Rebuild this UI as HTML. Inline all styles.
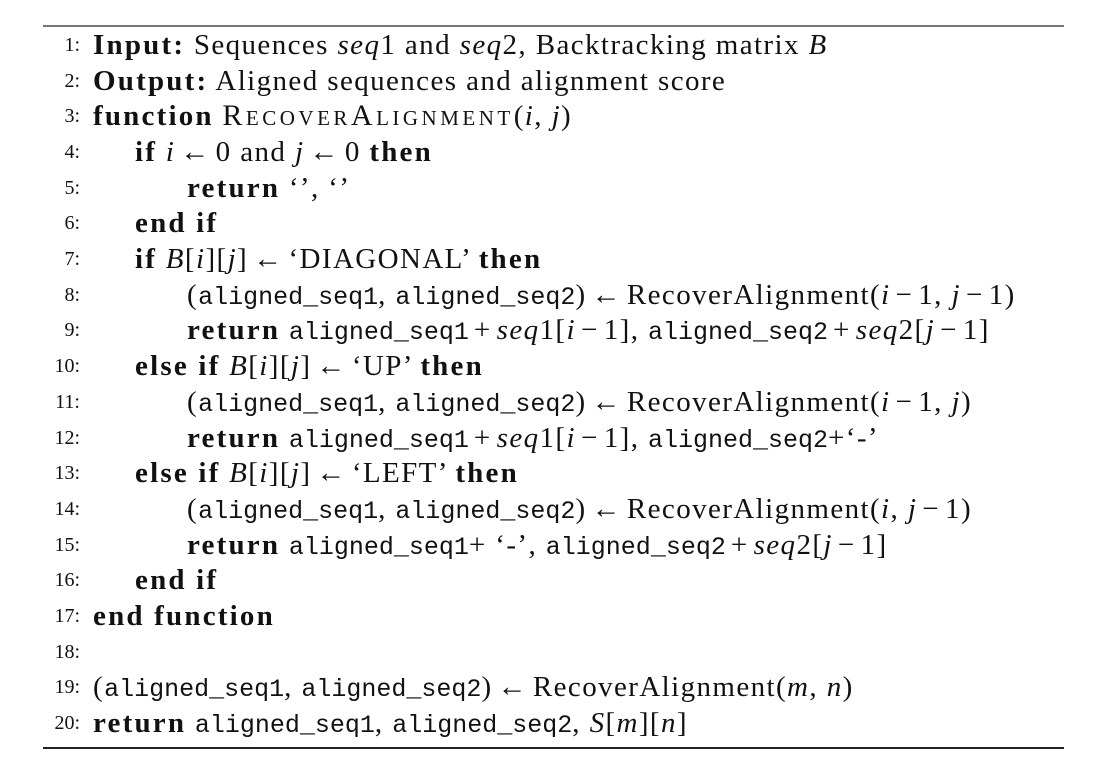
<!DOCTYPE html>
<html><head><meta charset="utf-8"><style>
body{margin:0;width:1114px;height:776px;background:#fff;position:relative;overflow:hidden;font-family:"Liberation Serif",serif;color:#111}
.rule{position:absolute;left:43px;width:1021px;height:2px}
.ln{position:absolute;left:0;height:36px;white-space:nowrap;font-size:29px;line-height:36px;letter-spacing:1.4px}
.num{position:absolute;left:20px;width:60px;text-align:right;font-size:20px;letter-spacing:0}
.tx{position:absolute;white-space:nowrap}
b{font-weight:bold;font-size:29px;letter-spacing:2.2px}
i{font-style:italic}
.m{font-family:"Liberation Mono",monospace;font-size:25px;letter-spacing:0}
.sc{font-variant:small-caps;font-size:30px;letter-spacing:3.5px}
.op{padding:0 5px}
</style></head><body>
<div class="rule" style="top:25px;background:#777"></div>
<div class="rule" style="top:747px;background:#222"></div>
<div>
<div class="ln" style="top:27px"><span class="num">1:</span><span class="tx" style="left:93px"><b>Input:</b> Sequences <i>seq</i>1 and <i>seq</i>2, Backtracking matrix <i>B</i></span></div>
<div class="ln" style="top:63px"><span class="num">2:</span><span class="tx" style="left:93px"><b>Output:</b> Aligned sequences and alignment score</span></div>
<div class="ln" style="top:98px"><span class="num">3:</span><span class="tx" style="left:93px"><b>function</b> <span class="sc">RecoverAlignment</span>(<i>i</i>, <i>j</i>)</span></div>
<div class="ln" style="top:134px"><span class="num">4:</span><span class="tx" style="left:135px"><b>if</b> <i>i</i><span class="op">←</span>0 and <i>j</i><span class="op">←</span>0 <b>then</b></span></div>
<div class="ln" style="top:170px"><span class="num">5:</span><span class="tx" style="left:187px"><b>return</b> ‘’, ‘’</span></div>
<div class="ln" style="top:205px"><span class="num">6:</span><span class="tx" style="left:135px"><b>end if</b></span></div>
<div class="ln" style="top:241px"><span class="num">7:</span><span class="tx" style="left:135px"><b>if</b> <i>B</i>[<i>i</i>][<i>j</i>]<span class="op">←</span>‘DIAGONAL’ <b>then</b></span></div>
<div class="ln" style="top:277px"><span class="num">8:</span><span class="tx" style="left:187px">(<span class="m">aligned_seq1</span>, <span class="m">aligned_seq2</span>)<span class="op">←</span>RecoverAlignment(<i>i</i><span class="op">−</span>1, <i>j</i><span class="op">−</span>1)</span></div>
<div class="ln" style="top:312px"><span class="num">9:</span><span class="tx" style="left:187px"><b>return</b> <span class="m">aligned_seq1</span><span class="op">+</span><i>seq</i>1[<i>i</i><span class="op">−</span>1], <span class="m">aligned_seq2</span><span class="op">+</span><i>seq</i>2[<i>j</i><span class="op">−</span>1]</span></div>
<div class="ln" style="top:348px"><span class="num">10:</span><span class="tx" style="left:135px"><b>else if</b> <i>B</i>[<i>i</i>][<i>j</i>]<span class="op">←</span>‘UP’ <b>then</b></span></div>
<div class="ln" style="top:384px"><span class="num">11:</span><span class="tx" style="left:187px">(<span class="m">aligned_seq1</span>, <span class="m">aligned_seq2</span>)<span class="op">←</span>RecoverAlignment(<i>i</i><span class="op">−</span>1, <i>j</i>)</span></div>
<div class="ln" style="top:420px"><span class="num">12:</span><span class="tx" style="left:187px"><b>return</b> <span class="m">aligned_seq1</span><span class="op">+</span><i>seq</i>1[<i>i</i><span class="op">−</span>1], <span class="m">aligned_seq2</span>+‘-’</span></div>
<div class="ln" style="top:455px"><span class="num">13:</span><span class="tx" style="left:135px"><b>else if</b> <i>B</i>[<i>i</i>][<i>j</i>]<span class="op">←</span>‘LEFT’ <b>then</b></span></div>
<div class="ln" style="top:491px"><span class="num">14:</span><span class="tx" style="left:187px">(<span class="m">aligned_seq1</span>, <span class="m">aligned_seq2</span>)<span class="op">←</span>RecoverAlignment(<i>i</i>, <i>j</i><span class="op">−</span>1)</span></div>
<div class="ln" style="top:527px"><span class="num">15:</span><span class="tx" style="left:187px"><b>return</b> <span class="m">aligned_seq1</span>+ ‘-’, <span class="m">aligned_seq2</span><span class="op">+</span><i>seq</i>2[<i>j</i><span class="op">−</span>1]</span></div>
<div class="ln" style="top:562px"><span class="num">16:</span><span class="tx" style="left:135px"><b>end if</b></span></div>
<div class="ln" style="top:598px"><span class="num">17:</span><span class="tx" style="left:93px"><b>end function</b></span></div>
<div class="ln" style="top:634px"><span class="num">18:</span></div>
<div class="ln" style="top:669px"><span class="num">19:</span><span class="tx" style="left:93px">(<span class="m">aligned_seq1</span>, <span class="m">aligned_seq2</span>)<span class="op">←</span>RecoverAlignment(<i>m</i>, <i>n</i>)</span></div>
<div class="ln" style="top:705px"><span class="num">20:</span><span class="tx" style="left:93px"><b>return</b> <span class="m">aligned_seq1</span>, <span class="m">aligned_seq2</span>, <i>S</i>[<i>m</i>][<i>n</i>]</span></div>
</div>
</body></html>
